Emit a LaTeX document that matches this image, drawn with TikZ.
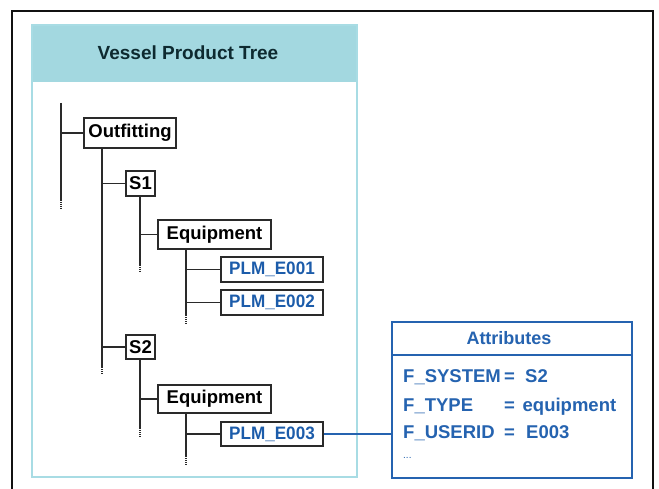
\documentclass[tikz,border=0pt]{standalone}
\usepackage{fontspec}
\setmainfont{Liberation Sans}
\newfontfamily\narrowsans{Liberation Sans}[FakeStretch=0.95]
\usetikzlibrary{calc}
\definecolor{framecol}{HTML}{111111}
\definecolor{panelline}{HTML}{A8DCE4}
\definecolor{panelhead}{HTML}{A3D8E0}
\definecolor{titlecol}{HTML}{0E2A30}
\definecolor{linecol}{HTML}{2A2A2A}
\definecolor{plmblue}{HTML}{1C5CAA}
\definecolor{attrblue}{HTML}{2563B0}
\tikzset{
  x=1pt, y=-1pt,
  treebox/.style={draw=linecol, line width=1.3pt, fill=white, inner sep=0pt,
    font=\fontsize{18.5}{21}\selectfont\bfseries, text=black},
  plmbox/.style={treebox, font=\narrowsans\fontsize{18}{21}\selectfont\bfseries, text=plmblue},
  trunk/.style={draw=linecol, line width=1.3pt},
  tail/.style={draw=linecol, line width=1.3pt, dash pattern=on 1pt off 1pt},
  attrtext/.style={font=\fontsize{18.5}{21}\selectfont\bfseries, text=attrblue, inner sep=0pt, anchor=base west},
}
\begin{document}
\begin{tikzpicture}
\useasboundingbox (0,0) rectangle (659,489);
\fill[white] (0,0) rectangle (659,489);

% outer frame, open at the bottom
\draw[framecol, line width=2.2pt] (12,489) -- (12,11) -- (653,11) -- (653,489);

% product tree panel
\fill[panelhead] (32,25) rectangle (357,82);
\draw[panelline, line width=1.2pt] (32,25) rectangle (357,477);
\node[font=\fontsize{19}{22}\selectfont\bfseries, text=titlecol] (title) at (188,53) {Vessel Product Tree};

% tree nodes
\node[treebox, minimum width=92pt, minimum height=30pt] (out) at (130,133) {Outfitting};
\node[treebox, minimum width=29pt, minimum height=25pt] (s1) at (140.5,183.5) {S1};
\node[treebox, minimum width=113pt, minimum height=29pt] (eqa) at (214.5,234.5) {Equipment};
\node[plmbox, minimum width=102pt, minimum height=25pt] (e001) at (272,269.5) {PLM\_E001};
\node[plmbox, minimum width=102pt, minimum height=25pt] (e002) at (272,302.5) {PLM\_E002};
\node[treebox, minimum width=29pt, minimum height=24pt] (s2) at (140.5,347) {S2};
\node[treebox, minimum width=113pt, minimum height=28pt] (eqb) at (214.5,399) {Equipment};
\node[plmbox, minimum width=102pt, minimum height=24pt] (e003) at (272,434) {PLM\_E003};

% trunk ends
\coordinate (roottop) at (61,103);
\coordinate (rootend) at (61,200);
\coordinate (rootdot) at (61,210);
\coordinate (outend) at (102,367);
\coordinate (outdot) at (102,375);
\coordinate (saend) at (140,265);
\coordinate (sadot) at (140,273);
\coordinate (eaend) at (186,315);
\coordinate (eadot) at (186,324);
\coordinate (sbend) at (140,428);
\coordinate (sbdot) at (140,437);
\coordinate (ebend) at (186,456);
\coordinate (ebdot) at (186,465);

% root level
\draw[trunk] (roottop) -- (rootend);
\draw[tail] (rootend) -- (rootdot);
\draw[trunk] (out.west -| roottop) -- (out.west);

% Outfitting branch
\draw[trunk] (out.south -| outend) -- (outend);
\draw[tail] (outend) -- (outdot);
\draw[trunk] (s1.west -| outend) -- (s1.west);
\draw[trunk] (s2.west -| outend) -- (s2.west);

% S1 branch
\draw[trunk] (s1.south -| saend) -- (saend);
\draw[tail] (saend) -- (sadot);
\draw[trunk] (eqa.west -| saend) -- (eqa.west);
\draw[trunk] (eqa.south -| eaend) -- (eaend);
\draw[tail] (eaend) -- (eadot);
\draw[trunk] (e001.west -| eaend) -- (e001.west);
\draw[trunk] (e002.west -| eaend) -- (e002.west);

% S2 branch
\draw[trunk] (s2.south -| sbend) -- (sbend);
\draw[tail] (sbend) -- (sbdot);
\draw[trunk] (eqb.west -| sbend) -- (eqb.west);
\draw[trunk] (eqb.south -| ebend) -- (ebend);
\draw[tail] (ebend) -- (ebdot);
\draw[trunk] (e003.west -| ebend) -- (e003.west);

% attribute card
\node[draw=attrblue, line width=1.3pt, minimum width=240pt, minimum height=156pt, inner sep=0pt] (attr) at (512,400) {};
\coordinate (divl) at (392,355);
\draw[attrblue, line width=1.3pt] (divl) -- (divl -| attr.east);
\node[font=\fontsize{18}{21}\selectfont\bfseries, text=attrblue] (attrtitle) at (509,338) {Attributes};
\node[attrtext] (r1) at (403,382) {\makebox[101pt][l]{F\_SYSTEM}\makebox[21pt][l]{=}S2};
\node[attrtext] (r2) at (403,411) {\makebox[101pt][l]{F\_TYPE}\makebox[18.5pt][l]{=}equipment};
\node[attrtext] (r3) at (403,438) {\makebox[101pt][l]{F\_USERID}\makebox[22pt][l]{=}E003};
\node[attrtext, font=\fontsize{10}{11}\selectfont] (r4) at (403,458) {...};

% link from the item to its attributes
\draw[attrblue, line width=1.2pt] (e003.east) -- (e003.east -| attr.west);
\end{tikzpicture}
\end{document}
